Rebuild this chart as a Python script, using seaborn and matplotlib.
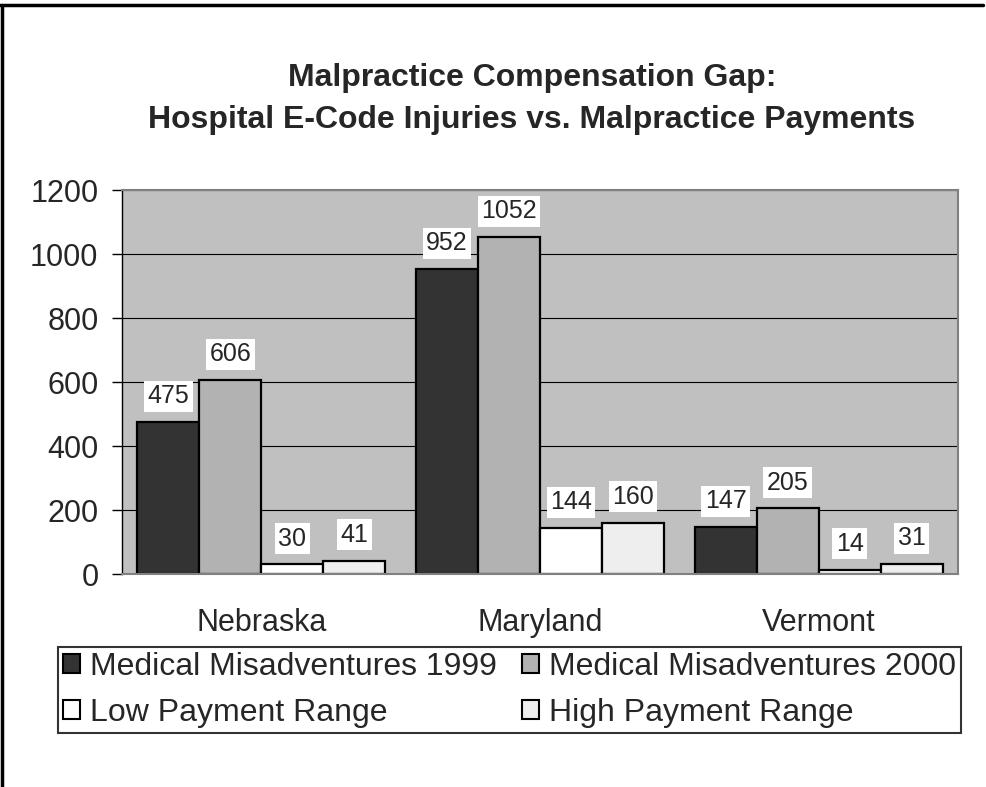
import pandas as pd
import matplotlib.pyplot as plt
import seaborn as sns
from matplotlib.patches import Patch
from matplotlib.lines import Line2D

# Datos del gráfico
estados = ['Nebraska', 'Maryland', 'Vermont']
series = ['Medical Misadventures 1999', 'Medical Misadventures 2000',
          'Low Payment Range', 'High Payment Range']
mis_1999 = [475, 952, 147]
mis_2000 = [606, 1052, 205]
pago_bajo = [30, 144, 14]
pago_alto = [41, 160, 31]
colores = ['#333333', '#B2B2B2', '#FFFFFF', '#EEEEEE']

filas = []
for serie, valores in zip(series, [mis_1999, mis_2000, pago_bajo, pago_alto]):
    for estado, v in zip(estados, valores):
        filas.append({'estado': estado, 'serie': serie, 'valor': v})
df = pd.DataFrame(filas)

sns.set_style('white')
plt.rcParams['font.family'] = ['Liberation Sans', 'DejaVu Sans']

fig = plt.figure(figsize=(9.86, 7.87), dpi=100)
ax = fig.add_axes([122 / 986, 1 - 574 / 787, (958 - 122) / 986, (574 - 190) / 787])

sns.barplot(data=df, x='estado', y='valor', hue='serie', hue_order=series,
            palette=colores, saturation=1, width=0.89, edgecolor='black',
            linewidth=1.6, legend=False, ax=ax)

ax.set_facecolor('#C0C0C0')
ax.set_ylim(0, 1200)
ax.set_yticks(range(0, 1201, 200))
ax.set_axisbelow(True)
ax.yaxis.grid(True, color='black', linewidth=0.8)
ax.xaxis.grid(False)
for lado in ['top', 'right', 'bottom']:
    ax.spines[lado].set_color('#808080')
    ax.spines[lado].set_linewidth(1.5)
ax.spines['left'].set_color('black')
ax.spines['left'].set_linewidth(1.0)
ax.tick_params(axis='y', which='both', left=True, length=7, width=1,
               color='black', labelsize=22, pad=10)
ax.tick_params(axis='x', bottom=False, labelsize=22, pad=21)
ax.set_xlabel('')
ax.set_ylabel('')

# Etiquetas de datos con fondo blanco
for cont in ax.containers:
    ax.bar_label(cont, fmt='%d', padding=10, fontsize=18,
                 bbox=dict(facecolor='white', edgecolor='none', pad=2.5))

fig.text(532 / 986, 1 - 99 / 787,
         'Malpractice Compensation Gap:\nHospital E-Code Injuries vs. Malpractice Payments',
         ha='center', va='center', fontsize=23, fontweight='bold', linespacing=1.55)

# Leyenda en orden por filas (matplotlib rellena por columnas)
orden = [0, 2, 1, 3]
handles = [Patch(facecolor=colores[i], edgecolor='black', linewidth=1.5) for i in orden]
etiquetas = [series[i] for i in orden]
leg = fig.legend(handles, etiquetas, loc='center', bbox_to_anchor=(509.5 / 986, 1 - 690 / 787),
                 ncol=2, fontsize=23, frameon=True, fancybox=False,
                 handlelength=0.54, handleheight=0.54, handletextpad=0.3,
                 columnspacing=0.8, borderpad=0.15, labelspacing=0.5)
leg.get_frame().set_edgecolor('black')
leg.get_frame().set_linewidth(1.5)

# Marco exterior (superior e izquierdo)
fig.add_artist(Line2D([0, 983 / 986], [1 - 5 / 787, 1 - 5 / 787], color='black', linewidth=2.5))
fig.add_artist(Line2D([2 / 986, 2 / 986], [0, 1 - 5 / 787], color='black', linewidth=2.5))

plt.savefig('out.png', dpi=100)
